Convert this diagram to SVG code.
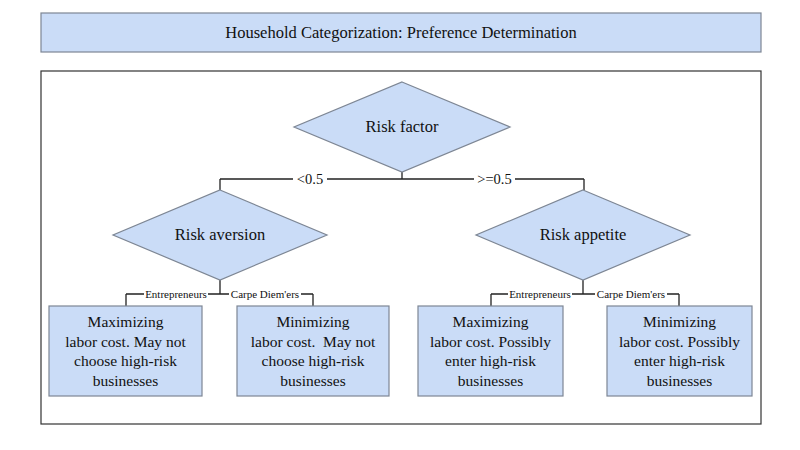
<svg xmlns="http://www.w3.org/2000/svg" width="800" height="450" viewBox="0 0 800 450">
<style>
.shape{fill:#cadcf7;stroke:#7d8694;stroke-width:1.2}
.t{font-family:"Liberation Serif","Times New Roman",serif;fill:#111;text-anchor:middle}
.big{font-size:15.5px}
.lab{font-size:14.5px}
.sm{font-size:11px}
.ln{fill:none;stroke:#222;stroke-width:1.3}
.bg{fill:#fff}
</style>
<rect width="800" height="450" fill="#fff"/>
<g id="title">
<rect class="shape" x="41" y="13" width="720" height="39"/>
<text class="t" x="401" y="38" font-size="16.5">Household Categorization: Preference Determination</text>
</g>
<g id="frame">
<rect x="41" y="71" width="720" height="353" fill="#fff" stroke="#333" stroke-width="1.2"/>
</g>
<g id="connectors">
<path class="ln" d="M402,172 V179 M220,179 H584 M220,179 V190 M584,179 V190"/>
<path class="ln" d="M220,280 V294 M126,294 H313 M126,294 V306 M313,294 V306"/>
<path class="ln" d="M583,280 V294 M491,294 H679 M491,294 V306 M679,294 V306"/>
<rect class="bg" x="293" y="171" width="34" height="16"/>
<text class="t lab" x="310" y="184">&lt;0.5</text>
<rect class="bg" x="474" y="171" width="41" height="16"/>
<text class="t lab" x="494.5" y="184">&gt;=0.5</text>
<rect class="bg" x="144" y="288" width="64" height="12"/>
<text class="t sm" x="176" y="298">Entrepreneurs</text>
<rect class="bg" x="229" y="288" width="72" height="12"/>
<text class="t sm" x="265" y="298">Carpe Diem'ers</text>
<rect class="bg" x="508" y="288" width="64" height="12"/>
<text class="t sm" x="540" y="298">Entrepreneurs</text>
<rect class="bg" x="595" y="288" width="72" height="12"/>
<text class="t sm" x="631" y="298">Carpe Diem'ers</text>
</g>
<g id="risk-factor">
<polygon class="shape" points="402,82 510,127 402,172 294,127"/>
<text class="t" x="402" y="132" font-size="16.5">Risk factor</text>
</g>
<g id="risk-aversion">
<polygon class="shape" points="220,190 327,235 220,280 113,235"/>
<text class="t" x="220" y="240" font-size="16.5">Risk aversion</text>
</g>
<g id="risk-appetite">
<polygon class="shape" points="583,190 690,235 583,280 476,235"/>
<text class="t" x="583" y="240" font-size="16.5">Risk appetite</text>
</g>
<g id="box1">
<rect class="shape" x="49" y="306" width="153" height="90"/>
<text class="t big" x="125.5"><tspan x="125.5" y="327">Maximizing</tspan><tspan x="125.5" y="347">labor cost. May not</tspan><tspan x="125.5" y="366">choose high-risk</tspan><tspan x="125.5" y="386">businesses</tspan></text>
</g>
<g id="box2">
<rect class="shape" x="237" y="306" width="152" height="90"/>
<text class="t big" x="313" xml:space="preserve"><tspan x="313" y="327">Minimizing</tspan><tspan x="313" y="347">labor cost.  May not</tspan><tspan x="313" y="366">choose high-risk</tspan><tspan x="313" y="386">businesses</tspan></text>
</g>
<g id="box3">
<rect class="shape" x="418" y="306" width="145" height="90"/>
<text class="t big" x="490.5"><tspan x="490.5" y="327">Maximizing</tspan><tspan x="490.5" y="347">labor cost. Possibly</tspan><tspan x="490.5" y="366">enter high-risk</tspan><tspan x="490.5" y="386">businesses</tspan></text>
</g>
<g id="box4">
<rect class="shape" x="607" y="306" width="145" height="90"/>
<text class="t big" x="679.5"><tspan x="679.5" y="327">Minimizing</tspan><tspan x="679.5" y="347">labor cost. Possibly</tspan><tspan x="679.5" y="366">enter high-risk</tspan><tspan x="679.5" y="386">businesses</tspan></text>
</g>
</svg>
